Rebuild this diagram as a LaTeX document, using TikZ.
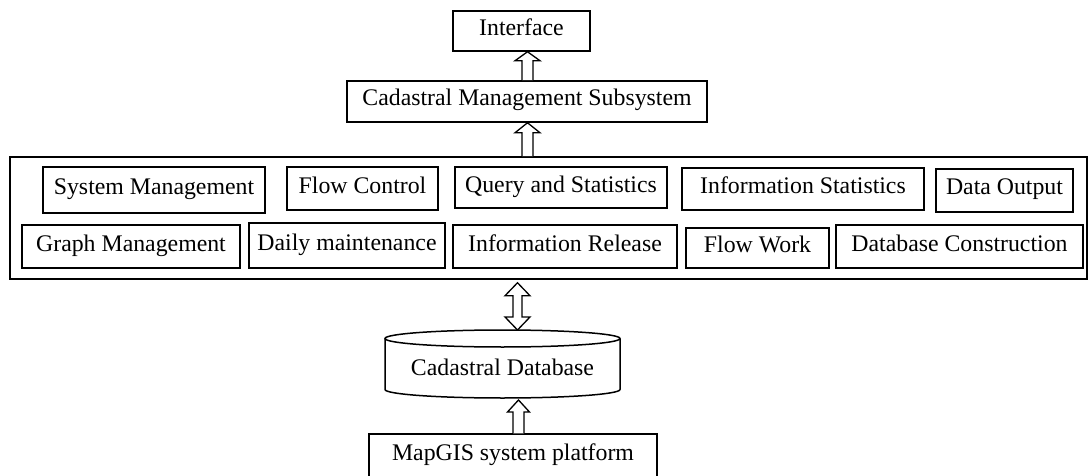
\documentclass[tikz,border=0pt]{standalone}
\usepackage{fontspec}
\setmainfont{Liberation Serif}
\usetikzlibrary{calc}
\tikzset{
  box/.style={draw, line width=1.5pt, inner sep=0pt, text height=15pt, text depth=6pt,
    font=\fontsize{23.8}{28}\selectfont},
  blk/.style={draw, line width=1.3pt, fill=white, line join=miter},
  cylline/.style={draw, line width=1.5pt},
}
% #1 base point, #2 tip point, #3 head length, #4 shaft half width, #5 head half width
\newcommand\blockarrow[5]{%
  \draw[blk] let \p1=(#1), \p2=(#2) in
    (\x1-#4pt,\y1) -- (\x1-#4pt,\y2-#3pt) -- (\x1-#5pt,\y2-#3pt) -- (\x1,\y2)
    -- (\x1+#5pt,\y2-#3pt) -- (\x1+#4pt,\y2-#3pt) -- (\x1+#4pt,\y1);}
\begin{document}
\begin{tikzpicture}[x=1pt,y=1pt]
\useasboundingbox (0,0) rectangle (1088,475);
% top
\node[box, minimum width=137, minimum height=40] (iface) at (521.5,444) {Interface};
\node[box, minimum width=360, minimum height=41] (cms) at (527,373.5) {Cadastral Management Subsystem};
% outer module box
\node[draw, line width=1.5pt, inner sep=0pt, minimum width=1077, minimum height=122] (outer) at (548.5,257) {};
% row 1
\node[box, minimum width=222, minimum height=46] (sys) at (154,285) {System Management};
\node[box, minimum width=151, minimum height=43] (flowc) at (362.5,286.5) {Flow Control};
\node[box, minimum width=212, minimum height=41] (query) at (561,287.5) {Query and Statistics};
\node[box, minimum width=242, minimum height=42] (infostat) at (803,286) {Information Statistics};
\node[box, minimum width=137, minimum height=43] (dataout) at (1004.5,284.5) {Data Output};
% row 2
\node[box, minimum width=218, minimum height=43] (graph) at (131,228.5) {Graph Management};
\node[box, minimum width=196, minimum height=45] (daily) at (347,229.5) {Daily maintenance};
\node[box, minimum width=224, minimum height=43] (inforel) at (565,228.5) {Information Release};
\node[box, minimum width=143, minimum height=40] (flowwork) at (757.5,227) {Flow Work};
\node[box, minimum width=247, minimum height=43] (dbcons) at (959.5,228.5) {Database Construction};
% database cylinder
\draw[cylline] (385,136.5) -- (385,85.5) arc[start angle=180, end angle=360, x radius=117.5, y radius=8.5] -- (620,136.5);
\draw[cylline] (502.5,136.5) ellipse[x radius=117.5, y radius=8.5];
\node[font=\fontsize{23.8}{28}\selectfont, anchor=base, inner sep=0pt] (cyl) at (502.5,100) {Cadastral Database};
\coordinate (cyltop) at (502.5,145);
\coordinate (cylbot) at (502.5,75);
% platform (bottom edge runs off the picture)
\node[box, text height=26pt, text depth=22pt, minimum width=288, anchor=base] (mapgis) at (513,15) {MapGIS system platform};
% arrow axes
\coordinate (a1) at (527.5,0);
\coordinate (a3) at (517.5,0);
\coordinate (a4) at (518.5,0);
% arrows
\blockarrow{cms.north -| a1}{iface.south -| a1}{9}{5.5}{12.5}
\blockarrow{outer.north -| a1}{cms.south -| a1}{10}{5.5}{12.5}
\blockarrow{mapgis.north -| a4}{cylbot -| a4}{12}{5.5}{11}
\draw[blk] let \p1=(outer.south -| a3), \p2=(cyltop -| a3) in
  (\x1,\y1-3pt) -- (\x1+12.5pt,\y1-16pt) -- (\x1+4.5pt,\y1-16pt) -- (\x1+4.5pt,\y2+13pt)
  -- (\x1+12.5pt,\y2+13pt) -- (\x2,\y2) -- (\x1-12.5pt,\y2+13pt) -- (\x1-4.5pt,\y2+13pt)
  -- (\x1-4.5pt,\y1-16pt) -- (\x1-12.5pt,\y1-16pt) -- cycle;
\end{tikzpicture}
\end{document}
